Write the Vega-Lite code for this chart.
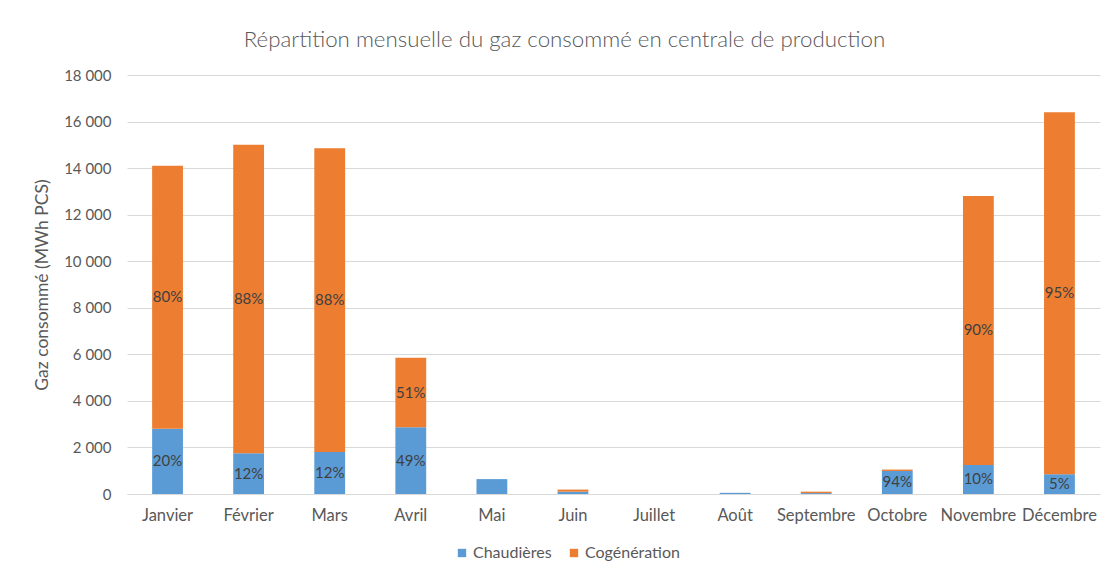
{
  "$schema": "https://vega.github.io/schema/vega-lite/v6.json",
  "width": 973,
  "height": 419,
  "autosize": {"type": "none"},
  "padding": {"left": 127, "top": 75, "right": 13, "bottom": 85},
  "background": "white",
  "config": {
    "font": "Lato",
    "view": {"stroke": null}
  },
  "title": {
    "text": "Répartition mensuelle du gaz consommé en centrale de production",
    "font": "Lato",
    "fontSize": 22.3,
    "fontWeight": 300,
    "color": "#595959",
    "anchor": "middle",
    "frame": "group",
    "dx": -49,
    "offset": 17
  },
  "data": {
    "values": [
      {"month": "Janvier", "serie": "Chaudières", "value": 2800, "label": "20%"},
      {"month": "Janvier", "serie": "Cogénération", "value": 11300, "label": "80%"},
      {"month": "Février", "serie": "Chaudières", "value": 1750, "label": "12%"},
      {"month": "Février", "serie": "Cogénération", "value": 13250, "label": "88%"},
      {"month": "Mars", "serie": "Chaudières", "value": 1800, "label": "12%"},
      {"month": "Mars", "serie": "Cogénération", "value": 13050, "label": "88%"},
      {"month": "Avril", "serie": "Chaudières", "value": 2870, "label": "49%"},
      {"month": "Avril", "serie": "Cogénération", "value": 2980, "label": "51%"},
      {"month": "Mai", "serie": "Chaudières", "value": 640, "label": ""},
      {"month": "Mai", "serie": "Cogénération", "value": 0, "label": ""},
      {"month": "Juin", "serie": "Chaudières", "value": 100, "label": ""},
      {"month": "Juin", "serie": "Cogénération", "value": 90, "label": ""},
      {"month": "Juillet", "serie": "Chaudières", "value": 0, "label": ""},
      {"month": "Juillet", "serie": "Cogénération", "value": 0, "label": ""},
      {"month": "Août", "serie": "Chaudières", "value": 50, "label": ""},
      {"month": "Août", "serie": "Cogénération", "value": 0, "label": ""},
      {"month": "Septembre", "serie": "Chaudières", "value": 40, "label": ""},
      {"month": "Septembre", "serie": "Cogénération", "value": 60, "label": ""},
      {"month": "Octobre", "serie": "Chaudières", "value": 990, "label": "94%"},
      {"month": "Octobre", "serie": "Cogénération", "value": 60, "label": ""},
      {"month": "Novembre", "serie": "Chaudières", "value": 1250, "label": "10%"},
      {"month": "Novembre", "serie": "Cogénération", "value": 11550, "label": "90%"},
      {"month": "Décembre", "serie": "Chaudières", "value": 850, "label": "5%"},
      {"month": "Décembre", "serie": "Cogénération", "value": 15550, "label": "95%"}
    ]
  },
  "encoding": {
    "x": {
      "field": "month",
      "type": "nominal",
      "sort": ["Janvier", "Février", "Mars", "Avril", "Mai", "Juin", "Juillet", "Août", "Septembre", "Octobre", "Novembre", "Décembre"],
      "scale": {"paddingInner": 0.62, "paddingOuter": 0.31},
      "axis": {
        "title": null,
        "labelAngle": 0,
        "labelFont": "Lato",
        "labelFontSize": 16.5,
        "labelColor": "#595959",
        "labelPadding": 13,
        "ticks": false,
        "domain": true,
        "domainColor": "#d9d9d9",
        "domainWidth": 1
      }
    }
  },
  "layer": [
    {
      "mark": {"type": "bar"},
      "encoding": {
        "y": {
          "field": "value",
          "type": "quantitative",
          "stack": "zero",
          "scale": {"domain": [0, 18000], "nice": false},
          "axis": {
            "title": "Gaz consommé (MWh PCS)",
            "titleFont": "Lato",
            "titleFontSize": 17.5,
            "titleFontWeight": "normal",
            "titleColor": "#595959",
            "titlePadding": 12,
            "values": [0, 2000, 4000, 6000, 8000, 10000, 12000, 14000, 16000, 18000],
            "labelExpr": "replace(format(datum.value, ',d'), ',', ' ')",
            "labelFont": "Lato",
            "labelFontSize": 15,
            "labelColor": "#595959",
            "labelPadding": 16,
            "ticks": false,
            "domain": false,
            "grid": true,
            "gridColor": "#d9d9d9",
            "gridWidth": 1
          }
        },
        "color": {
          "field": "serie",
          "type": "nominal",
          "scale": {"domain": ["Chaudières", "Cogénération"], "range": ["#5b9bd5", "#ed7d31"]},
          "legend": {
            "title": null,
            "orient": "none",
            "direction": "horizontal",
            "legendX": 327,
            "legendY": 470,
            "symbolType": "square",
            "symbolSize": 70,
            "symbolStrokeWidth": 0,
            "labelFont": "Lato",
            "labelFontSize": 16,
            "labelColor": "#595959",
            "labelOffset": 3,
            "columnPadding": 14
          }
        },
        "order": {"field": "serie", "sort": "ascending"}
      }
    },
    {
      "transform": [
        {"stack": "value", "groupby": ["month"], "sort": [{"field": "serie", "order": "ascending"}], "as": ["v0", "v1"]},
        {"filter": "datum.label != ''"},
        {"fold": ["v0", "v1"], "as": ["k", "v"]},
        {"aggregate": [{"op": "mean", "field": "v", "as": "mid"}], "groupby": ["month", "serie", "label"]}
      ],
      "mark": {"type": "text", "font": "Lato", "fontSize": 15, "color": "#404040", "baseline": "middle", "align": "center"},
      "encoding": {
        "y": {"field": "mid", "type": "quantitative"},
        "text": {"field": "label", "type": "nominal"}
      }
    }
  ]
}
